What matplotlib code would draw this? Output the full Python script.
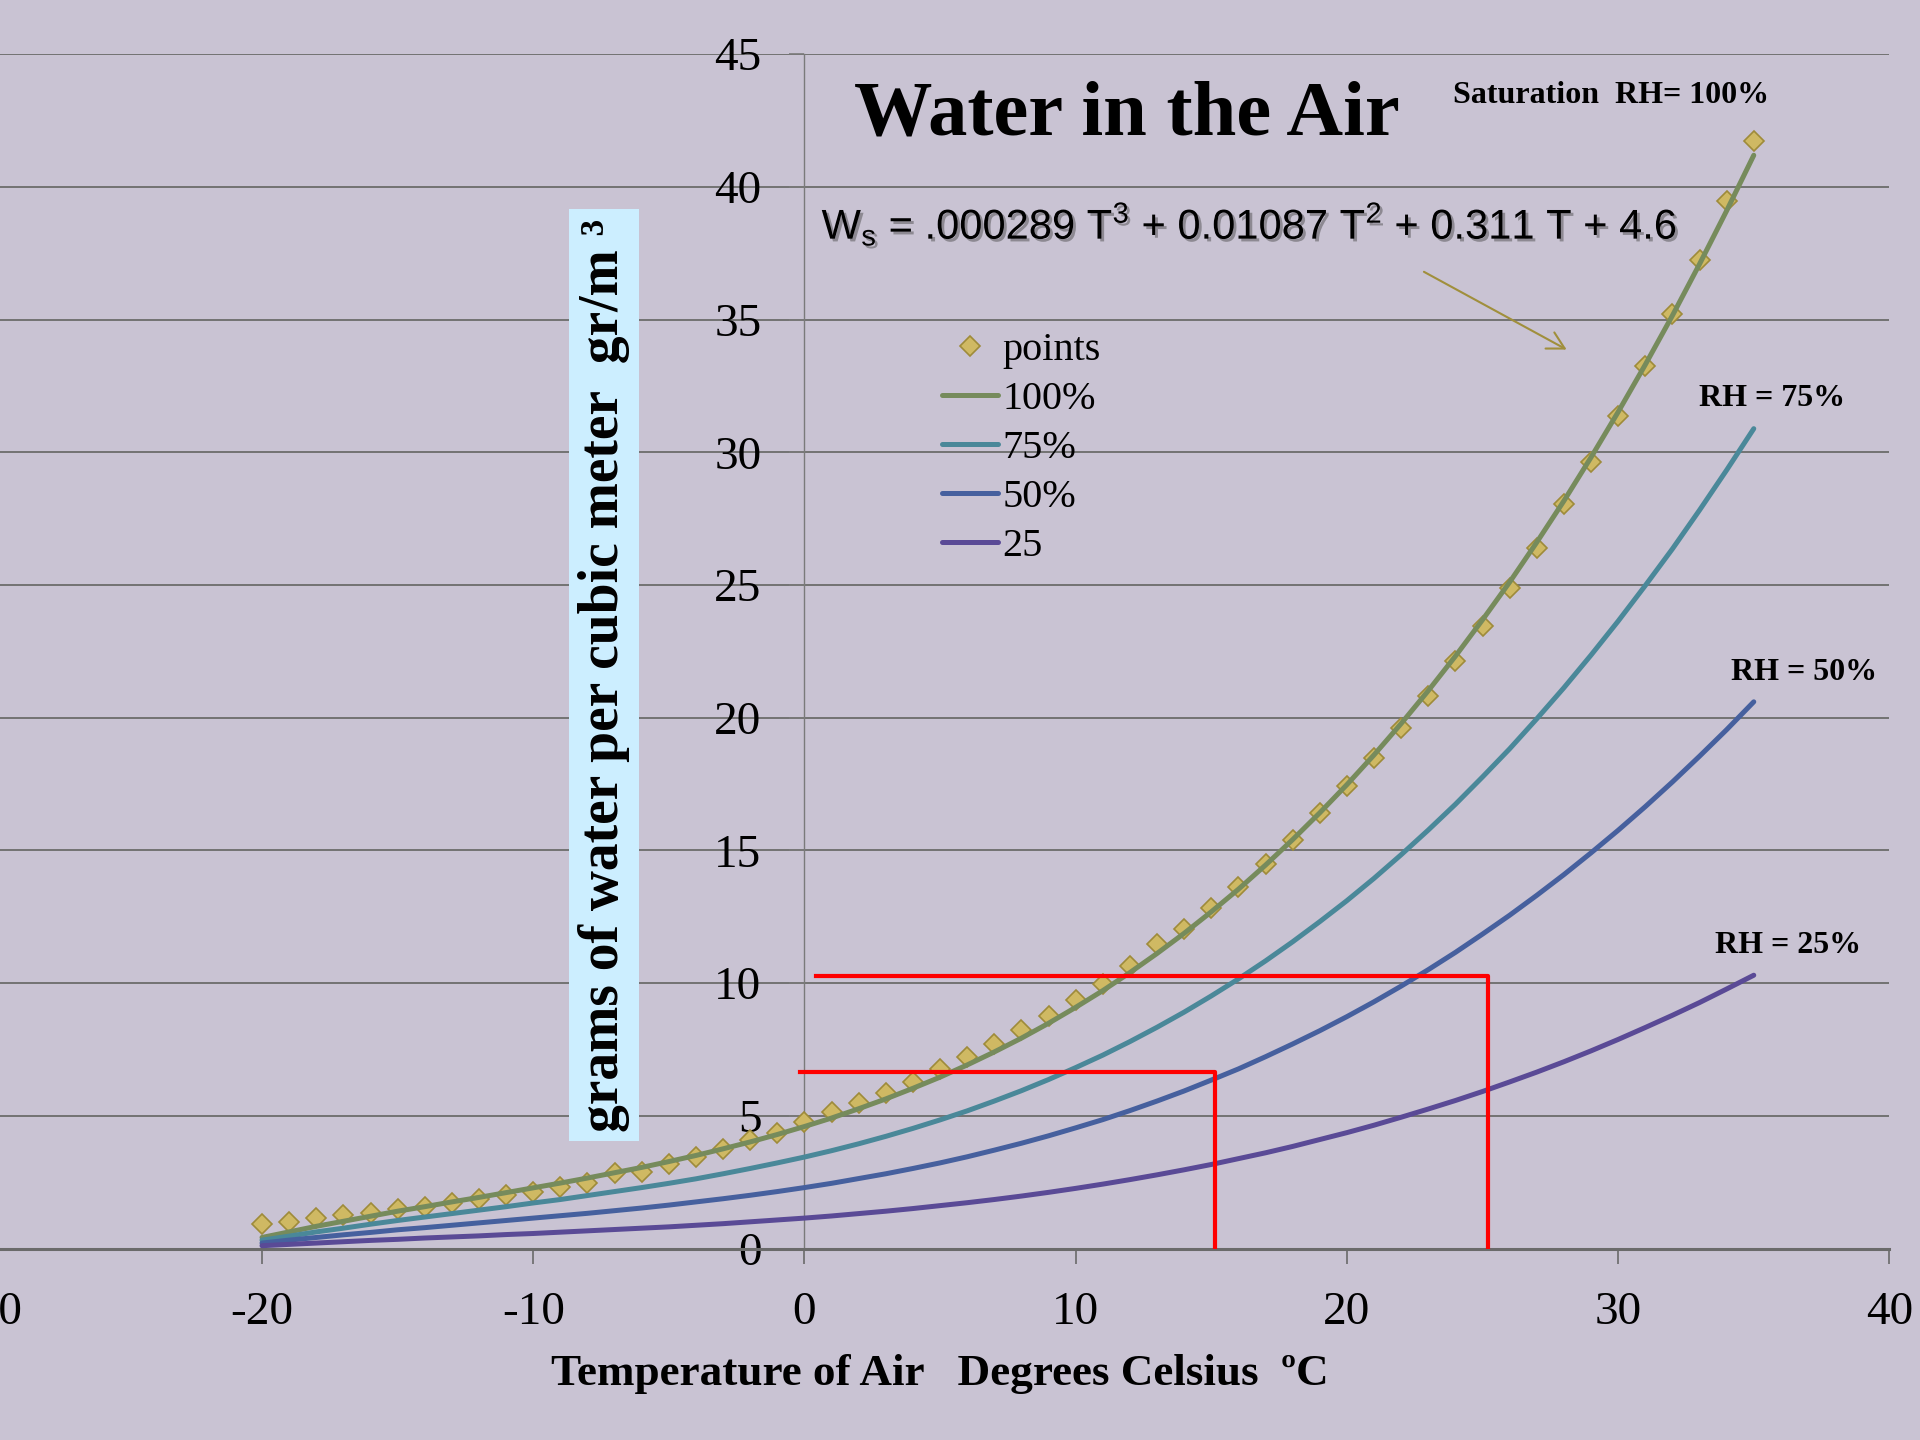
import matplotlib
matplotlib.use("Agg")
import matplotlib.pyplot as plt
import matplotlib.patheffects as pe

plt.rcParams["axes.unicode_minus"] = False

# temperature axis (deg C) and fitted curves
temps = list(range(-20, 36))

rh_100 = [0.42, 0.63, 0.84, 1.03, 1.22, 1.41, 1.58, 1.76, 1.93, 2.11,
          2.29, 2.47, 2.66, 2.86, 3.06, 3.28, 3.51, 3.76, 4.02, 4.30,
          4.60, 4.92, 5.27, 5.64, 6.04, 6.46, 6.92, 7.41, 7.93, 8.49,
          9.09, 9.72, 10.40, 11.12, 11.88, 12.69, 13.54, 14.45, 15.41, 16.42,
          17.48, 18.60, 19.78, 21.02, 22.32, 23.69, 25.11, 26.61, 28.17, 29.81,
          31.52, 33.30, 35.15, 37.09, 39.10, 41.19]
rh_75 = [0.32, 0.47, 0.63, 0.77, 0.92, 1.06, 1.19, 1.32, 1.45, 1.58,
         1.72, 1.85, 2.00, 2.15, 2.30, 2.46, 2.63, 2.82, 3.02, 3.23,
         3.45, 3.69, 3.95, 4.23, 4.53, 4.85, 5.19, 5.56, 5.95, 6.37,
         6.82, 7.29, 7.80, 8.34, 8.91, 9.52, 10.16, 10.84, 11.56, 12.32,
         13.11, 13.95, 14.84, 15.77, 16.74, 17.77, 18.83, 19.96, 21.13, 22.36,
         23.64, 24.98, 26.36, 27.82, 29.33, 30.89]
rh_50 = [0.21, 0.32, 0.42, 0.52, 0.61, 0.71, 0.79, 0.88, 0.97, 1.06,
         1.15, 1.24, 1.33, 1.43, 1.53, 1.64, 1.76, 1.88, 2.01, 2.15,
         2.30, 2.46, 2.64, 2.82, 3.02, 3.23, 3.46, 3.71, 3.97, 4.25,
         4.55, 4.86, 5.20, 5.56, 5.94, 6.35, 6.77, 7.23, 7.71, 8.21,
         8.74, 9.30, 9.89, 10.51, 11.16, 11.85, 12.56, 13.31, 14.09, 14.91,
         15.76, 16.65, 17.58, 18.55, 19.55, 20.60]
rh_25 = [0.11, 0.16, 0.21, 0.26, 0.31, 0.35, 0.40, 0.44, 0.48, 0.53,
         0.57, 0.62, 0.67, 0.72, 0.77, 0.82, 0.88, 0.94, 1.01, 1.08,
         1.15, 1.23, 1.32, 1.41, 1.51, 1.62, 1.73, 1.85, 1.98, 2.12,
         2.27, 2.43, 2.60, 2.78, 2.97, 3.17, 3.39, 3.61, 3.85, 4.11,
         4.37, 4.65, 4.95, 5.26, 5.58, 5.92, 6.28, 6.65, 7.04, 7.45,
         7.88, 8.33, 8.79, 9.27, 9.78, 10.30]

# measured saturation points (diamonds)
points = [0.93, 1.01, 1.14, 1.27, 1.35, 1.48, 1.58, 1.73, 1.86, 2.02,
          2.14, 2.33, 2.48, 2.84, 2.90, 3.19, 3.46, 3.74, 4.09, 4.37,
          4.78, 5.13, 5.50, 5.87, 6.29, 6.75, 7.23, 7.71, 8.24, 8.76,
          9.37, 9.97, 10.65, 11.48, 12.03, 12.82, 13.64, 14.49, 15.40, 16.40,
          17.41, 18.50, 19.62, 20.83, 22.13, 23.46, 24.88, 26.38, 28.06, 29.62,
          31.36, 33.24, 35.20, 37.26, 39.47, 41.71]

# red guide lines (dew point examples)
guide_hi_x = [0.44, 25.2, 25.2]
guide_hi_y = [10.28, 10.28, 0]
guide_lo_x = [-0.17, 15.15, 15.15]
guide_lo_y = [6.65, 6.65, 0]

series_labels = ["100%", "75%", "50%", "25"]
series_colors = ["#768B5C", "#4A8899", "#46609E", "#5A4A96"]

bg = "#C9C3D3"
serif = "Liberation Serif"

fig = plt.figure(figsize=(19.2, 14.4), dpi=100, facecolor=bg)
ax = fig.add_axes([-0.0048, 0.1329, 0.98885, 0.8295])
ax.set_facecolor(bg)

ax.plot(temps, points, linestyle="none", marker="D", markersize=10,
        markerfacecolor="#CFB963", markeredgecolor="#9E8B3A",
        markeredgewidth=1.2, label="points", zorder=3)
for vals, lab, col in zip([rh_100, rh_75, rh_50, rh_25], series_labels, series_colors):
    ax.plot(temps, vals, color=col, lw=3.6, label=lab, zorder=4,
            solid_capstyle="round")

ax.plot(guide_hi_x, guide_hi_y, color="#FF0000", lw=3, zorder=5)
ax.plot(guide_lo_x, guide_lo_y, color="#FF0000", lw=3, zorder=5)

ax.set_xlim(-30, 40)
ax.set_ylim(0, 45)
ax.set_xticks(range(-30, 41, 10))
ax.set_yticks(range(0, 46, 5))

for s in ["top", "right"]:
    ax.spines[s].set_visible(False)
ax.spines["left"].set_position(("data", 0))
ax.spines["left"].set_color("#7A7A7A")
ax.spines["left"].set_linewidth(1.0)
ax.spines["bottom"].set_color("#6A6A6A")
ax.spines["bottom"].set_linewidth(2.2)

ax.yaxis.grid(True, color="#727272", lw=1.4, zorder=1)
ax.set_axisbelow(True)
ax.tick_params(axis="x", direction="out", length=11, width=1.2, color="#6A6A6A",
               pad=20, labelsize=34)
ax.tick_params(axis="y", direction="out", length=11, width=1.2, color="#7A7A7A",
               pad=20, labelsize=34)
for lbl in ax.get_xticklabels() + ax.get_yticklabels():
    lbl.set_fontfamily(serif)

ax.set_xlabel("Temperature of Air   Degrees Celsius  ºC", fontsize=32.5,
              fontweight="bold", fontfamily=serif)
ax.xaxis.set_label_coords(0.5, -0.1142)
ax.xaxis.label.set_va("baseline")

# y label in its light blue box
fig.text(604 / 1920, 1 - 675 / 1440, "grams of water per cubic meter  gr/m ³",
         rotation=90, ha="center", va="center", fontsize=40, fontweight="bold",
         fontfamily=serif, bbox=dict(facecolor="#CCEEFF", edgecolor="none", pad=7))

fig.text(1127 / 1920, 1 - 135 / 1440, "Water in the Air", ha="center",
         va="baseline", fontsize=56.5, fontweight="bold", fontfamily=serif)

eq = fig.text(1249 / 1920, 1 - 239 / 1440,
              r"W$_\mathregular{s}$ = .000289 T$^\mathregular{3}$ + 0.01087 "
              r"T$^\mathregular{2}$ + 0.311 T + 4.6",
              ha="center", va="baseline", fontsize=30, fontfamily="Liberation Sans")
eq.set_path_effects([pe.SimplePatchShadow(offset=(2, -2), shadow_rgbFace="#444444",
                                          alpha=0.45), pe.Normal()])

ax.annotate("", xy=(28.1, 33.87), xytext=(22.84, 36.8),
            arrowprops=dict(arrowstyle="->,head_length=0.55,head_width=0.3",
                            color="#A08F3C", lw=1.5, shrinkA=0, shrinkB=0,
                            mutation_scale=22))

lab_kw = dict(ha="center", va="baseline", fontsize=23, fontweight="bold",
              fontfamily=serif)
ax.text(29.74, 43.16, "Saturation  RH= 100%", **lab_kw)
ax.text(35.67, 31.75, "RH = 75%", **lab_kw)
ax.text(36.84, 21.42, "RH = 50%", **lab_kw)
ax.text(36.28, 11.14, "RH = 25%", **lab_kw)

leg = ax.legend(loc="upper left", bbox_to_anchor=(942 / 1920, 1 - 332 / 1440),
                bbox_transform=fig.transFigure, frameon=False, numpoints=1,
                handlelength=1.4, handletextpad=0.1, labelspacing=0.29,
                borderpad=0, borderaxespad=0,
                prop={"family": serif, "size": 29})

fig.savefig("out.png", dpi=100, facecolor=bg)
